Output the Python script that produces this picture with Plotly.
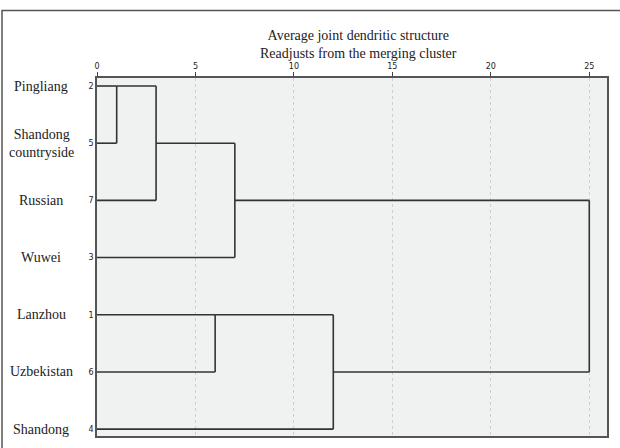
import math
import plotly.graph_objects as go

# ---- data ----
leaf_names = ["Pingliang", "Shandong<br>countryside", "Russian", "Wuwei",
              "Lanzhou", "Uzbekistan", "Shandong"]
case_ids = ["2", "5", "7", "3", "1", "6", "4"]
# merges: (child_a, child_b, rescaled distance); children < 0 are leaves (-(index+1)), >=0 are earlier merges
merge_a = [-1, 0, 1, -5, 3, 2]
merge_b = [-2, -3, -4, -6, -7, 4]
merge_h = [1.0, 3.0, 7.0, 6.0, 12.0, 25.0]
x_ticks = [0, 5, 10, 15, 20, 25]

W, H = 620, 448
L, R, T, B = 97, 13, 78, 10
pw, ph = W - L - R, H - T - B

SERIF = "'Liberation Serif', 'Times New Roman', Times, serif"
SANS = "'DejaVu Sans', Verdana, sans-serif"

def px_x(p):
    return (p - L) / pw

def px_y(p):
    return (H - B - p) / ph

# ---- build dendrogram lines ----
node_pos = {}
xs, ys = [], []

def child_info(c):
    if c < 0:
        return (-c - 1, 0.0)
    return node_pos[c]

for i, (a, b, h) in enumerate(zip(merge_a, merge_b, merge_h)):
    ya, xa = child_info(a)
    yb, xb = child_info(b)
    xs += [xa, h, None, xb, h, None, h, h, None]
    ys += [ya, ya, None, yb, yb, None, ya, yb, None]
    node_pos[i] = (math.floor((ya + yb) / 2), h)

fig = go.Figure()
fig.add_trace(go.Scatter(x=xs, y=ys, mode="lines",
                         line=dict(color="#333333", width=1.6),
                         hoverinfo="skip", showlegend=False))

n = len(leaf_names)
fig.update_layout(
    width=W, height=H,
    margin=dict(l=L, r=R, t=T, b=B),
    paper_bgcolor="white",
    plot_bgcolor="#f0f1f1",
    showlegend=False,
    xaxis=dict(side="top", range=[0, 25.9], tickvals=x_ticks,
               ticks="outside", ticklen=4, tickcolor="#444444", tickwidth=1.2,
               tickfont=dict(family=SANS, size=8, color="#222222"),
               showgrid=True, gridcolor="#cfcfcf", griddash="3px,3px", gridwidth=1,
               showline=True, linecolor="#555555", linewidth=1.5, mirror=True,
               zeroline=False),
    yaxis=dict(range=[6.12, -0.14], tickvals=list(range(n)), ticktext=case_ids,
               ticks="", showgrid=False, zeroline=False,
               tickfont=dict(family=SANS, size=8, color="#222222"),
               showline=True, linecolor="#555555", linewidth=1.5, mirror=True),
)

# category labels
for i, name in enumerate(leaf_names):
    fig.add_annotation(x=px_x(41), xref="paper", y=i, yref="y",
                       text=name, showarrow=False, xanchor="center", yanchor="middle",
                       font=dict(family=SERIF, size=14, color="#222222"))

# title
fig.add_annotation(x=px_x(358), xref="paper", y=px_y(44), yref="paper",
                   text="Average joint dendritic structure<br>Readjusts from the merging cluster",
                   showarrow=False, xanchor="center", yanchor="middle",
                   font=dict(family=SERIF, size=14, color="#222222"))

# outer frame
fig.add_shape(type="rect", xref="paper", yref="paper",
              x0=px_x(2), x1=px_x(630), y0=px_y(460), y1=px_y(10),
              line=dict(color="#555555", width=1.5), fillcolor="rgba(0,0,0,0)", layer="above")

fig.write_html("out.html", config={"displayModeBar": False},
               post_script="document.body.style.margin='0px';")
